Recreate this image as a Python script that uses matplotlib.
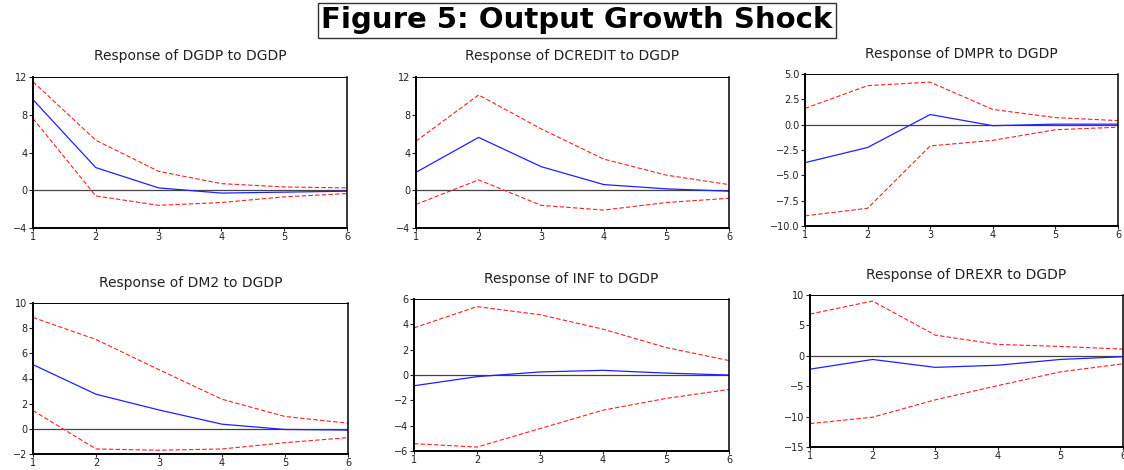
import matplotlib
matplotlib.use("Agg")
import matplotlib.pyplot as plt

plt.rcParams['font.family'] = ['DejaVu Sans']

periods = [1, 2, 3, 4, 5, 6]

titles = [
    "Response of DGDP to DGDP",
    "Response of DCREDIT to DGDP",
    "Response of DMPR to DGDP",
    "Response of DM2 to DGDP",
    "Response of INF to DGDP",
    "Response of DREXR to DGDP",
]

# impulse responses and +/- 2 s.e. bands
dgdp = [9.6, 2.4, 0.25, -0.3, -0.2, -0.1]
dgdp_hi = [11.5, 5.3, 2.0, 0.7, 0.35, 0.25]
dgdp_lo = [7.6, -0.6, -1.6, -1.3, -0.7, -0.35]

dcredit = [1.9, 5.6, 2.5, 0.6, 0.15, -0.1]
dcredit_hi = [5.2, 10.1, 6.5, 3.3, 1.6, 0.6]
dcredit_lo = [-1.5, 1.1, -1.6, -2.1, -1.3, -0.85]

dmpr = [-3.75, -2.25, 1.0, -0.1, 0.05, 0.05]
dmpr_hi = [1.6, 3.85, 4.2, 1.5, 0.7, 0.4]
dmpr_lo = [-9.0, -8.25, -2.1, -1.55, -0.5, -0.25]

dm2 = [5.1, 2.75, 1.5, 0.37, -0.05, -0.1]
dm2_hi = [8.85, 7.1, 4.7, 2.35, 0.98, 0.45]
dm2_lo = [1.45, -1.6, -1.7, -1.6, -1.1, -0.7]

inf = [-0.85, -0.13, 0.24, 0.37, 0.15, 0.0]
inf_hi = [3.72, 5.4, 4.76, 3.62, 2.17, 1.14]
inf_lo = [-5.42, -5.69, -4.23, -2.78, -1.85, -1.14]

drexr = [-2.2, -0.6, -1.9, -1.55, -0.6, -0.15]
drexr_hi = [6.87, 9.0, 3.4, 1.87, 1.54, 1.1]
drexr_lo = [-11.15, -10.1, -7.25, -4.9, -2.64, -1.32]

series = [
    (dgdp, dgdp_hi, dgdp_lo),
    (dcredit, dcredit_hi, dcredit_lo),
    (dmpr, dmpr_hi, dmpr_lo),
    (dm2, dm2_hi, dm2_lo),
    (inf, inf_hi, inf_lo),
    (drexr, drexr_hi, drexr_lo),
]

yticks = [
    [-4, 0, 4, 8, 12],
    [-4, 0, 4, 8, 12],
    [-10.0, -7.5, -5.0, -2.5, 0.0, 2.5, 5.0],
    [-2, 0, 2, 4, 6, 8, 10],
    [-6, -4, -2, 0, 2, 4, 6],
    [-15, -10, -5, 0, 5, 10],
]

W, H = 1124, 470
# pixel boxes: left, top, right, bottom, title y
boxes = [
    (33, 77, 347, 228, 56),
    (416, 77, 729, 228, 56),
    (805, 74, 1118, 226, 54),
    (33, 303, 348, 454, 283),
    (414, 299, 729, 451, 279),
    (810, 295, 1123, 447, 275),
]

fig = plt.figure(figsize=(W / 100, H / 100), dpi=100)
fig.patch.set_facecolor("white")

for i in range(6):
    l, t, r, b, ty = boxes[i]
    ax = fig.add_axes([l / W, 1 - b / H, (r - l) / W, (b - t) / H])
    mid, hi, lo = series[i]
    ax.axhline(0, color="#444444", lw=0.9, zorder=1)
    ax.plot(periods, hi, color="#ff2020", lw=0.8, ls=(0, (4, 2)))
    ax.plot(periods, lo, color="#ff2020", lw=0.8, ls=(0, (4, 2)))
    ax.plot(periods, mid, color="#2020ff", lw=0.9)
    ax.set_xlim(1, 6)
    ax.set_xticks(periods)
    yt = yticks[i]
    ax.set_ylim(yt[0], yt[-1])
    ax.set_yticks(yt)
    if i == 2:
        ax.set_yticklabels([f"{v:.1f}".replace("-", "\u2212") for v in yt])
    ax.tick_params(axis="y", labelsize=7, length=3, width=0.8, pad=1, colors="#222222")
    ax.tick_params(axis="x", labelsize=7, length=2, width=0.8, pad=1, colors="#222222")
    ax.spines["left"].set_linewidth(1.4)
    ax.spines["bottom"].set_linewidth(1.4)
    ax.spines["top"].set_linewidth(0.7)
    ax.spines["right"].set_linewidth(1.1)
    fig.text((l + r) / 2 / W, 1 - ty / H, titles[i], ha="center", va="center",
             fontsize=10, color="#222222")

fig.text(577 / W, 1 - 20 / H, "Figure 5: Output Growth Shock", ha="center", va="center",
         fontsize=21, fontweight="bold",
         bbox=dict(boxstyle="square,pad=0.12", facecolor="white", edgecolor="#333333", lw=1))

fig.savefig("out.png", dpi=100)
